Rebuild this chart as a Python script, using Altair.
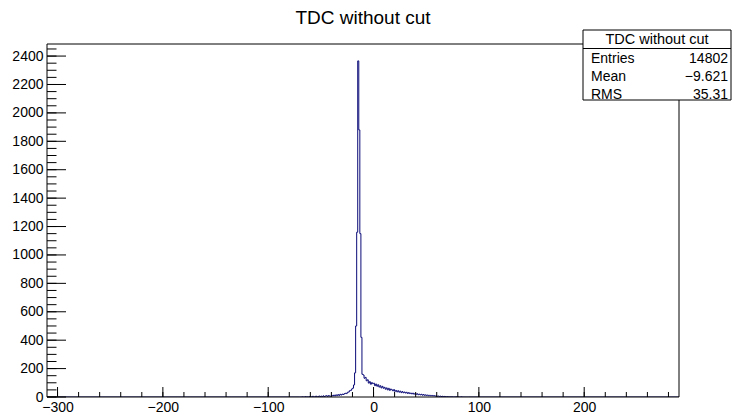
import altair as alt
import pandas as pd
import numpy as np

# ---------------- data ----------------
title_text = "TDC without cut"
x_min, x_max = -310, 290
y_max = 2485
bin_width = 1
first_bin_edge = -70
counts = [
    # -70 .. -61
    0, 0, 1, 0, 0, 2, 0, 1, 0, 3,
    # -60 .. -51
    2, 0, 5, 2, 1, 6, 1, 3, 7, 3,
    # -50 .. -41
    6, 2, 8, 3, 7, 9, 4, 10, 6, 5,
    # -40 .. -31
    11, 7, 13, 8, 15, 10, 17, 11, 19, 14,
    # -30 .. -21
    20, 18, 23, 26, 24, 33, 35, 44, 46, 56,
    # -20 .. -11
    62, 85, 170, 500, 1160, 2366, 1880, 1150, 420, 160,
    # -10 .. -1
    155, 132, 138, 114, 121, 98, 108, 90, 101, 94,
    # 0 .. 9
    97, 80, 91, 76, 86, 70, 79, 64, 75, 62,
    # 10 .. 19
    68, 55, 64, 50, 61, 47, 56, 51, 44, 52,
    # 20 .. 29
    40, 46, 36, 44, 34, 41, 31, 38, 30, 35,
    # 30 .. 39
    28, 33, 25, 31, 24, 28, 22, 27, 20, 24,
    # 40 .. 49
    19, 23, 16, 20, 15, 19, 13, 17, 12, 15,
    # 50 .. 59
    11, 14, 9, 12, 8, 11, 7, 10, 6, 8,
    # 60 .. 69
    5, 7, 4, 6, 3, 5, 2, 4, 3, 1,
    # 70 .. 79
    3, 1, 2, 0, 2, 0, 1, 0, 2, 0,
    # 80 .. 89
    1, 0, 0, 1, 0, 0, 0, 0, 0, 0,
]
x_major_ticks = [-300, -200, -100, 0, 100, 200]
x_minor_ticks = [-300, -280, -260, -240, -220, -200, -180, -160, -140, -120,
                 -100, -80, -60, -40, -20, 0, 20, 40, 60, 80, 100, 120, 140,
                 160, 180, 200, 220, 240, 260, 280]
y_major_ticks = [0, 200, 400, 600, 800, 1000, 1200, 1400, 1600, 1800, 2000,
                 2200, 2400]
y_minor_ticks = [v for v in range(0, 2451, 50)]
stats_labels = ["Entries", "Mean", "RMS"]
stats_values = ["14802", "\u22129.621", "35.31"]

# ---------------- build tables ----------------
edges = [first_bin_edge + i * bin_width for i in range(len(counts))]
step_x = [x_min] + edges + [edges[-1] + bin_width, x_max]
step_y = [0] + counts + [0, 0]
hist_df = pd.DataFrame({"x": step_x, "count": step_y, "order": range(len(step_x))})

W, H = 632, 353
FONT = "Liberation Sans"
LINE = "#0a0a78"

xscale = alt.Scale(domain=[x_min, x_max], nice=False, zero=False)
yscale = alt.Scale(domain=[0, y_max], nice=False, zero=True)
xaxis = alt.Axis(values=x_major_ticks, title=None, ticks=False, domain=False,
                 grid=False, labelFont=FONT, labelFontSize=14,
                 labelColor="black", labelPadding=3, labelFlush=False, format="d")
yaxis = alt.Axis(values=y_major_ticks, title=None, ticks=False, domain=False,
                 grid=False, labelFont=FONT, labelFontSize=14,
                 labelColor="black", labelPadding=4, labelFlush=False, format="d")

one = pd.DataFrame({"a": [0]})

frame = alt.Chart(one).mark_rect(fillOpacity=0, stroke="black", strokeWidth=1).encode(
    x=alt.value(0), x2=alt.value(W), y=alt.value(0), y2=alt.value(H)
)

hist = alt.Chart(hist_df).mark_line(
    interpolate="step-after", color=LINE, strokeWidth=1, clip=True
).encode(
    x=alt.X("x:Q", scale=xscale, axis=xaxis),
    y=alt.Y("count:Q", scale=yscale, axis=yaxis),
    order="order:O",
)

xmaj = alt.Chart(pd.DataFrame({"v": x_major_ticks})).mark_rule(color="black", strokeWidth=1).encode(
    x=alt.X("v:Q", scale=xscale, axis=xaxis), y=alt.value(H), y2=alt.value(H - 10)
)
xmin_ = alt.Chart(pd.DataFrame({"v": x_minor_ticks})).mark_rule(color="black", strokeWidth=1).encode(
    x=alt.X("v:Q", scale=xscale, axis=xaxis), y=alt.value(H), y2=alt.value(H - 5)
)
ymaj = alt.Chart(pd.DataFrame({"v": y_major_ticks})).mark_rule(color="black", strokeWidth=1).encode(
    y=alt.Y("v:Q", scale=yscale, axis=yaxis), x=alt.value(0), x2=alt.value(19)
)
ymin_ = alt.Chart(pd.DataFrame({"v": y_minor_ticks})).mark_rule(color="black", strokeWidth=1).encode(
    y=alt.Y("v:Q", scale=yscale, axis=yaxis), x=alt.value(0), x2=alt.value(9.5)
)

# stats box (plot-area pixel coordinates)
bx0, bx1, by0, by1 = 536, 684, -14, 56
box = alt.Chart(one).mark_rect(fill="white", stroke="black", strokeWidth=1).encode(
    x=alt.value(bx0), x2=alt.value(bx1), y=alt.value(by0), y2=alt.value(by1)
)
sep = alt.Chart(one).mark_rule(color="black", strokeWidth=1).encode(
    x=alt.value(bx0), x2=alt.value(bx1), y=alt.value(4.5)
)
box_title = alt.Chart(one).mark_text(
    text=title_text, font=FONT, fontSize=14.5, color="black", align="center", baseline="middle"
).encode(x=alt.value((bx0 + bx1) / 2), y=alt.value(-4.5))

row_pos = [14.5, 32.5, 50.5]
box_texts = []
for lab, val, ry in zip(stats_labels, stats_values, row_pos):
    box_texts.append(alt.Chart(one).mark_text(
        text=lab, font=FONT, fontSize=14, color="black", align="left", baseline="middle"
    ).encode(x=alt.value(bx0 + 8), y=alt.value(ry)))
    box_texts.append(alt.Chart(one).mark_text(
        text=val, font=FONT, fontSize=14, color="black", align="right", baseline="middle"
    ).encode(x=alt.value(bx1 - 3), y=alt.value(ry)))

title = alt.Chart(one).mark_text(
    text=title_text, font=FONT, fontSize=19, color="black", align="center", baseline="alphabetic"
).encode(x=alt.value(W / 2), y=alt.value(-20))

chart = alt.layer(
    hist, frame, xmin_, xmaj, ymin_, ymaj, box, sep, box_title, *box_texts, title
).properties(
    width=W, height=H,
    autosize=alt.AutoSizeParams(type="none"),
    padding={"left": 39, "top": 36, "right": 53, "bottom": 17},
    background="white",
).configure_view(stroke=None)

chart.save("out.html", embed_options={"renderer": "svg", "actions": False})
